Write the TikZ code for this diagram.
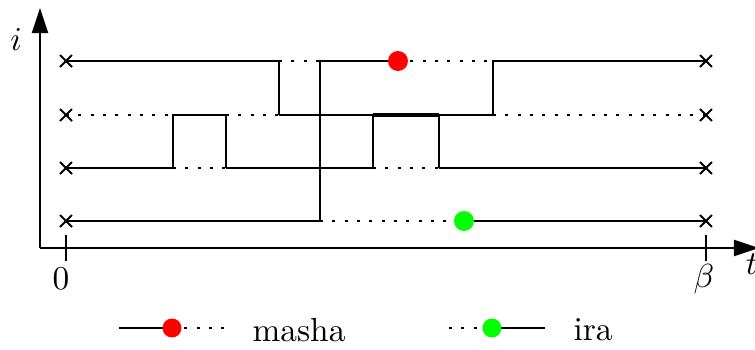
\documentclass[tikz,border=0pt]{standalone}
\usetikzlibrary{arrows.meta,shapes.misc}
\begin{document}
\begin{tikzpicture}[x=0.3pt,y=-0.3pt,
  wl/.style={line width=0.55pt},
  dotl/.style={line width=0.55pt,dash pattern=on 0.9pt off 2.8pt},
  thickl/.style={line width=1.3pt},
  xmark/.style={cross out,draw,line width=0.6pt,minimum size=3pt,inner sep=0pt},
  kink/.style={circle,inner sep=0pt,minimum size=9pt},
  axisarrow/.style={line width=0.55pt,-{Triangle[length=7.5pt,width=4.8pt]}},
  lbl/.style={font=\normalsize,inner sep=0pt}]
\useasboundingbox (0,0) rectangle (755,350);
% grid of named points
\foreach \r/\y in {1/61,2/115,3/168,4/221}{
  \foreach \c/\x in {s/66,a/173,b/226,c/279,d/320,e/373,f/398,g/439,h/464,k/493,z/706}{
    \coordinate (\c\r) at (\x,\y);
  }
}
% axes
\coordinate (O) at (40,248);
\coordinate (ytip) at (40,8);
\coordinate (xtip) at (759,248);
\draw[axisarrow] (O) -- (ytip);
\draw[axisarrow] (O) -- (xtip);
\coordinate (t0a) at (66,235);
\coordinate (t0b) at (66,261);
\coordinate (tba) at (706,235);
\coordinate (tbb) at (706,261);
\draw[wl] (t0a) -- (t0b);
\draw[wl] (tba) -- (tbb);
\node[lbl] (zero) at (61,279) {$0$};
\node[lbl] (beta) at (704,279) {$\beta$};
\node[lbl] (tlab) at (752,264) {$t$};
\node[lbl] (ilab) at (16,40) {$i$};
% row 1
\draw[wl] (s1) -- (c1) -- (c2);
\draw[dotl] (c1) -- (d1);
\draw[wl] (d4) -- (d1) -- (f1);
\draw[dotl] (f1) -- (k1);
\draw[wl] (k2) -- (k1) -- (z1);
% row 2
\draw[dotl] (s2) -- (a2);
\draw[wl] (a3) -- (a2) -- (b2) -- (b3);
\draw[dotl] (b2) -- (c2);
\draw[wl] (c2) -- (e2);
\draw[wl] (e3) -- (e2);
\draw[thickl] (e2) -- (g2);
\draw[wl] (g3) -- (g2) -- (k2);
\draw[dotl] (k2) -- (z2);
% row 3
\draw[wl] (s3) -- (a3);
\draw[dotl] (a3) -- (b3);
\draw[wl] (b3) -- (e3);
\draw[dotl] (e3) -- (g3);
\draw[wl] (g3) -- (z3);
% row 4
\draw[wl] (s4) -- (d4);
\draw[dotl] (d4) -- (h4);
\draw[wl] (h4) -- (z4);
% crosses
\foreach \r in {1,2,3,4}{
  \node[xmark] (xs\r) at (s\r) {};
  \node[xmark] (xz\r) at (z\r) {};
}
% dots
\node[circle,fill=red,inner sep=0pt,minimum size=6pt] (mdot) at (f1) {};
\node[circle,fill=green,inner sep=0pt,minimum size=6pt] (idot) at (h4) {};
% legend
\coordinate (la) at (119,328);
\coordinate (lc) at (226,328);
\node[circle,fill=red,inner sep=0pt,minimum size=5.6pt] (lm) at (172,328) {};
\draw[wl] (la) -- (lm.center);
\draw[dotl] (lm.center) -- (lc);
\node[lbl,anchor=west] (mashatxt) at (252,330) {masha};
\coordinate (lb) at (449,328);
\coordinate (ld) at (545,328);
\node[circle,fill=green,inner sep=0pt,minimum size=5.6pt] (li) at (492,328) {};
\draw[dotl] (lb) -- (li.center);
\draw[wl] (li.center) -- (ld);
\node[circle,fill=green,inner sep=0pt,minimum size=5.6pt] at (li) {};
\node[circle,fill=red,inner sep=0pt,minimum size=5.6pt] at (lm) {};
\node[lbl,anchor=west] (iratxt) at (573,330) {ira};
\end{tikzpicture}
\end{document}
